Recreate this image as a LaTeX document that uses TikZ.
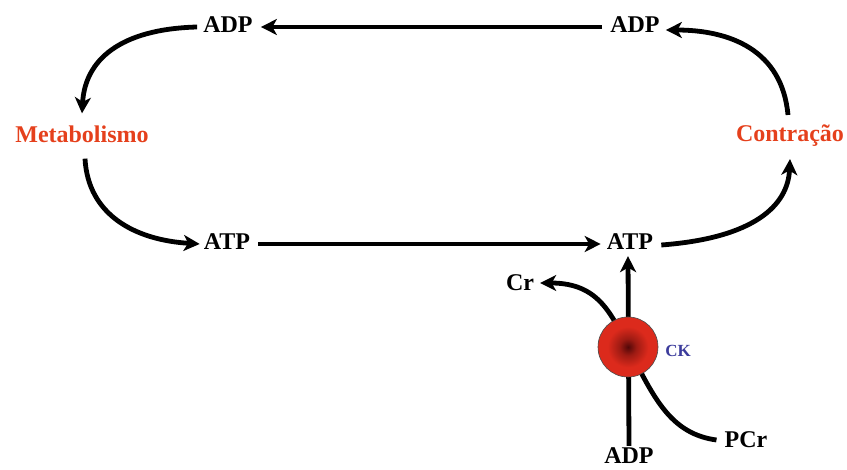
\documentclass[tikz,border=0pt]{standalone}
\usepackage{fontspec}
\setmainfont{Liberation Serif}
\usetikzlibrary{arrows.meta,calc}
\definecolor{metred}{HTML}{E5401C}
\definecolor{ckblue}{HTML}{3C3C9C}
\definecolor{ckdark}{HTML}{520808}
\definecolor{ckred}{HTML}{DC2A1C}
\pgfdeclareradialshading{ckshade}{\pgfpoint{0bp}{0bp}}{color(0bp)=(ckdark); color(7bp)=(ckdark!45!ckred); color(17bp)=(ckred); color(50bp)=(ckred)}
\tikzset{
  lbl/.style={font=\fontsize{24}{28}\selectfont\bfseries, inner sep=2pt},
  proc/.style={lbl, text=metred},
  flow/.style={line width=4.8pt, -{Stealth[length=16pt,width=16pt,inset=4.5pt]}},
}
\begin{document}
\begin{tikzpicture}[x=1pt,y=-1pt]
\useasboundingbox (0,0) rectangle (847,470);
\node[lbl] (adpL) at (228,25) {ADP};
\node[lbl] (adpR) at (635,25) {ADP};
\node[proc] (met) at (82,134) {Metabolismo};
\node[proc] (con) at (790,136) {Contração};
\node[lbl] (atpL) at (227,242) {ATP};
\node[lbl] (atpR) at (630,242) {ATP};
\node[lbl] (cr) at (520,283) {Cr};
\node[lbl] (adpB) at (629,456) {ADP};
\node[lbl] (pcr) at (746,440) {PCr};
\node[font=\fontsize{17}{20}\selectfont\bfseries, text=ckblue] (cklbl) at (678,351) {CK};
% cycle
\draw[flow] ($(adpR.west)+(-6,2)$) -- ($(adpL.east)+(6,2)$);
\draw[flow] ($(adpL.west)+(-4,2)$) .. controls (120,29) and (85,60) .. ($(met.north)+(0,-10)$);
\draw[flow] ($(met.south)+(3,14)$) .. controls (88,215) and (135,240) .. ($(atpL.west)+(-2,2)$);
\draw[flow] ($(atpL.east)+(6,2)$) -- ($(atpR.west)+(-4,2)$);
\draw[flow] ($(atpR.east)+(6,3)$) .. controls (755,238) and (788,205) .. ($(con.south)+(0,10)$);
\draw[flow] ($(con.north)+(-2,-8)$) .. controls (782,50) and (730,30) .. ($(adpR.east)+(4,5)$);
% CK reaction
\draw[flow] ($(adpB.north)+(0,0)$) -- ($(atpR.south)+(-2,4)$);
\draw[flow] ($(pcr.west)+(-6,0)$) .. controls (672,434) and (655,400) .. (632,355)
  .. controls (612,315) and (600,283) .. ($(cr.east)+(4,0)$);
\node[circle, minimum size=60pt, draw=black!70, line width=0.6pt,
  shading=ckshade] (ck) at (628,347) {};
\end{tikzpicture}
\end{document}
